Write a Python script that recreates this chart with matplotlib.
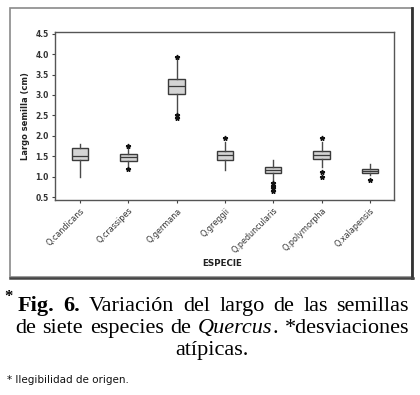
import matplotlib
matplotlib.use("Agg")
import matplotlib.pyplot as plt
from matplotlib.patches import Rectangle

# species and box statistics (cm)
species = ["Q.candicans", "Q.crassipes", "Q.germana", "Q.greggii",
           "Q.peduncularis", "Q.polymorpha", "Q.xalapensis"]
q1 = [1.40, 1.39, 3.02, 1.40, 1.08, 1.43, 1.10]
med = [1.51, 1.47, 3.23, 1.53, 1.16, 1.53, 1.15]
q3 = [1.69, 1.55, 3.39, 1.62, 1.24, 1.62, 1.20]
whislo = [1.00, 1.22, 2.55, 1.16, 0.91, 1.24, 1.04]
whishi = [1.81, 1.72, 3.88, 1.86, 1.40, 1.86, 1.31]
fliers = [[], [1.76, 1.20], [3.92, 2.51, 2.43], [1.94],
          [0.84, 0.78, 0.72, 0.66], [1.94, 1.12, 1.00], [0.91]]
yticks = [0.5, 1.0, 1.5, 2.0, 2.5, 3.0, 3.5, 4.0, 4.5]

W, H = 420, 395
fig = plt.figure(figsize=(W / 100, H / 100), dpi=100)


def fx(px):
    return px / W


def fy(py):
    return 1 - py / H


# outer frame around the chart
fig.patches.append(Rectangle((fx(10), fy(277)), fx(402), (277 - 8) / H,
                             transform=fig.transFigure, fill=False,
                             edgecolor="#8a8a8a", lw=1.2))
fig.add_artist(plt.Line2D([fx(412), fx(412)], [fy(278), fy(8)],
                          transform=fig.transFigure, color="#333333", lw=2))
fig.add_artist(plt.Line2D([fx(10), fx(413)], [fy(278), fy(278)],
                          transform=fig.transFigure, color="#444444", lw=1.8))

ax = fig.add_axes([fx(55), fy(200), fx(394 - 55), (200 - 32) / H])

stats = []
for i in range(len(species)):
    stats.append(dict(med=med[i], q1=q1[i], q3=q3[i], whislo=whislo[i],
                      whishi=whishi[i], fliers=fliers[i], label=species[i]))

ax.bxp(stats, positions=range(1, len(species) + 1), widths=0.34,
       showcaps=False, patch_artist=True,
       boxprops=dict(facecolor="#d4d4d4", edgecolor="#3a3a3a", lw=1.0),
       medianprops=dict(color="#3a3a3a", lw=0.9),
       whiskerprops=dict(color="#4a4a4a", lw=1.0),
       flierprops=dict(marker="*", markersize=3.5, markerfacecolor="#111111",
                       markeredgecolor="#111111"))

ax.set_xlim(0.48, 7.5)
ax.set_ylim(0.43, 4.54)
ax.set_yticks(yticks)
ax.set_yticklabels([f"{t:.1f}" for t in yticks], fontsize=5.5,
                   fontweight="bold", color="#333333")
ax.set_xticks(range(1, len(species) + 1))
ax.set_xticklabels(species, rotation=45, ha="right", rotation_mode="anchor",
                   fontsize=5.8, color="#333333")
ax.tick_params(length=2.5, width=0.8, color="#444444", pad=2)
ax.tick_params(axis="x", pad=2)
for sp in ax.spines.values():
    sp.set_color("#555555")
    sp.set_linewidth(1.0)

ax.set_ylabel("Largo semilla (cm)", fontsize=6, fontweight="bold",
              color="#222222")
ax.yaxis.set_label_coords(-0.074, 0.5)
fig.text(fx(222), fy(263), "ESPECIE", fontsize=6.3, fontweight="bold",
         color="#222222", ha="center", va="center")

# caption, justified like the source page
renderer = fig.canvas.get_renderer()
serif = "Liberation Serif"
cap_size = 16


def width_of(s, **kw):
    t = fig.text(0, 0, s, **kw)
    w = t.get_window_extent(renderer).width
    t.remove()
    return w


def draw_line(words, x0, x1, baseline, center=False):
    widths = []
    for word in words:
        widths.append([width_of(s, family=serif, fontsize=cap_size, **kw)
                       for s, kw in word])
    total = sum(sum(w) for w in widths)
    if center or len(words) == 1:
        gap = width_of(" ", family=serif, fontsize=cap_size)
        x = (x0 + x1) / 2 - (total + gap * (len(words) - 1)) / 2
    else:
        gap = (x1 - x0 - total) / (len(words) - 1)
        x = x0
    for word, ws in zip(words, widths):
        for (s, kw), w in zip(word, ws):
            fig.text(fx(x), fy(baseline), s, family=serif, fontsize=cap_size,
                     va="baseline", ha="left", **kw)
            x += w
        x += gap


B = dict(fontweight="bold")
I = dict(fontstyle="italic")
R = {}

fig.text(fx(4), fy(301), "*", family=serif, fontsize=12, fontweight="bold",
         va="baseline")
line1 = [[("Fig.", B)], [("6.", B)], [("Variación", R)], [("del", R)],
         [("largo", R)], [("de", R)], [("las", R)], [("semillas", R)]]
line2 = [[("de", R)], [("siete", R)], [("especies", R)], [("de", R)],
         [("Quercus", I), (".", R)], [("*desviaciones", R)]]
line3 = [[("atípicas.", R)]]
draw_line(line1, 18, 409, 311)
draw_line(line2, 15, 409, 333)
draw_line(line3, 15, 409, 354.5, center=True)

fig.text(fx(7), fy(383), "* Ilegibilidad de origen.", fontsize=7.5,
         family="DejaVu Sans", va="baseline", color="#111111")

fig.savefig("out.png", dpi=100)
